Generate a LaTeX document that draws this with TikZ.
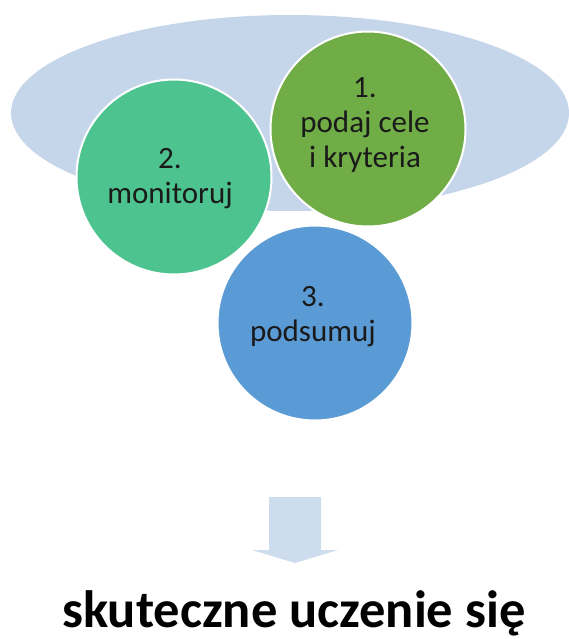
\documentclass[tikz,border=0pt]{standalone}
\usepackage{fontspec}
\setmainfont{Carlito}
\definecolor{ellcol}{HTML}{C5D5EA}
\definecolor{gOne}{HTML}{70AD47}
\definecolor{gTwo}{HTML}{4DC48F}
\definecolor{bThree}{HTML}{5B9BD5}
\definecolor{arrcol}{HTML}{CDDDEE}
\definecolor{txt}{HTML}{1A1A1A}
\begin{document}
\begin{tikzpicture}[x=1pt,y=-1pt,
  bubble/.style={circle, draw=white, line width=2pt, minimum size=195pt, inner sep=0pt},
  lbl/.style={align=center, text=txt, font=\fontsize{31}{35}\selectfont}]
\useasboundingbox (0,0) rectangle (569,639);
\fill[ellcol] (290,113) ellipse [x radius=279, y radius=98];
\node[bubble, fill=gTwo] (c2) at (174,177) {};
\node[bubble, fill=gOne] (c1) at (368,129) {};
\node[bubble, fill=bThree] (c3) at (315,323) {};
\node[lbl] (t1) at (365,125) {1.\\podaj cele\\i kryteria};
\node[lbl] (t2) at (170,179) {2.\\monitoruj};
\node[lbl] (t3) at (313,317) {3.\\podsumuj};
\fill[arrcol] (269,497) -- (321,497) -- (321,550) -- (338,550) -- (295,563) -- (252,550) -- (269,550) -- cycle;
\node[anchor=base, font=\bfseries\fontsize{52.5}{60}\selectfont, text=black, inner sep=0pt] (res) at (294,627) {skuteczne uczenie się};
\end{tikzpicture}
\end{document}
